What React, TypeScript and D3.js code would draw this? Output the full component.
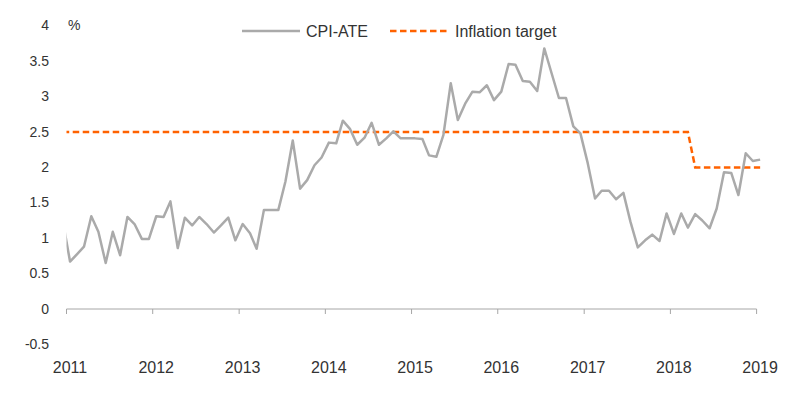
import React from "react";
import * as d3 from "d3";

// Monthly CPI-ATE (% y/y), Dec 2010 .. Jan 2019
const startMonth = "2010-12";
const cpiAte: number[] = [
  1.25,
  0.67, 0.78, 0.88, 1.31, 1.09, 0.65, 1.09, 0.76, 1.30, 1.20, 0.99, 0.99,
  1.31, 1.30, 1.52, 0.86, 1.29, 1.18, 1.30, 1.20, 1.08, 1.18, 1.29, 0.97,
  1.20, 1.07, 0.85, 1.40, 1.40, 1.40, 1.80, 2.38, 1.70, 1.82, 2.03, 2.14,
  2.35, 2.34, 2.66, 2.54, 2.32, 2.42, 2.63, 2.32, 2.41, 2.51, 2.41, 2.41,
  2.41, 2.40, 2.17, 2.15, 2.46, 3.19, 2.67, 2.90, 3.07, 3.06, 3.16, 2.95,
  3.07, 3.46, 3.45, 3.22, 3.21, 3.08, 3.68, 3.33, 2.98, 2.98, 2.58, 2.48,
  2.06, 1.56, 1.67, 1.67, 1.55, 1.64, 1.23, 0.87, 0.97, 1.05, 0.96, 1.35,
  1.06, 1.35, 1.15, 1.34, 1.25, 1.14, 1.42, 1.93, 1.92, 1.61, 2.20, 2.09,
  2.11,
];

// Inflation target steps
const targetMonths = ["2010-12", "2018-03", "2018-04", "2019-01"];
const targetValues = [2.5, 2.5, 2.0, 2.0];

const yTicks = [-0.5, 0, 0.5, 1, 1.5, 2, 2.5, 3, 3.5, 4];
const xYears = [2011, 2012, 2013, 2014, 2015, 2016, 2017, 2018, 2019];

const seriesNames = ["CPI-ATE", "Inflation target"];

const W = 800;
const H = 412;
const FONT = "'Liberation Sans', Arial, sans-serif";
const TEXT = "#333333";
const GREY = "#aaaaaa";
const ORANGE = "#ff6200";

const parseMonth = (s: string) => {
  const [y, m] = s.split("-").map(Number);
  return new Date(y, m - 1, 16);
};

export default function App() {
  const x = d3
    .scaleTime()
    .domain([new Date(2011, 0, 1), new Date(2019, 0, 1)])
    .range([66.5, 756.6]);
  const y = d3.scaleLinear().domain([-0.5, 4]).range([344.4, 25.8]);

  const start = parseMonth(startMonth);
  const cpiData = cpiAte.map((v, i) => ({
    date: d3.timeMonth.offset(start, i),
    v,
  }));
  const targetData = targetMonths.map((m, i) => ({
    date: parseMonth(m),
    v: targetValues[i],
  }));

  const line = d3
    .line<{ date: Date; v: number }>()
    .x((d) => x(d.date))
    .y((d) => y(d.v));

  const x0 = x.range()[0];
  const x1 = x.range()[1];
  const y0 = y(0);

  return (
    <svg
      width={W}
      height={H}
      style={{ position: "absolute", left: 0, top: 0, background: "#fff" }}
      fontFamily={FONT}
    >
      <defs>
        <clipPath id="plotclip">
          <rect x={x0} y={0} width={W - x0} height={H} />
        </clipPath>
      </defs>

      {/* y tick labels */}
      {yTicks.map((t) => (
        <text
          key={t}
          x={49}
          y={y(t)}
          dy="0.33em"
          textAnchor="end"
          fontSize={14}
          fill={TEXT}
        >
          {String(t)}
        </text>
      ))}
      <text x={68} y={29.5} fontSize={14} fill={TEXT}>
        %
      </text>

      {/* x axis */}
      <line x1={x0} x2={x1} y1={y0} y2={y0} stroke="#a6a6a6" strokeWidth={1} />
      {xYears.map((yr) => {
        const px = x(new Date(yr, 0, 1));
        return (
          <g key={yr}>
            <line x1={px} x2={px} y1={y0} y2={y0 + 5} stroke="#a6a6a6" strokeWidth={1} />
            <text
              x={px + 3.5}
              y={373}
              textAnchor="middle"
              fontSize={16}
              fill={TEXT}
            >
              {yr}
            </text>
          </g>
        );
      })}

      {/* series */}
      <g clipPath="url(#plotclip)">
        <path
          d={line(targetData) || ""}
          fill="none"
          stroke={ORANGE}
          strokeWidth={2.5}
          strokeDasharray="6.5,3.5"
        />
        <path
          d={line(cpiData) || ""}
          fill="none"
          stroke={GREY}
          strokeWidth={2.5}
          strokeLinejoin="round"
        />
      </g>

      {/* legend */}
      <line x1={242} x2={300} y1={31} y2={31} stroke={GREY} strokeWidth={2.5} />
      <text x={306} y={36.5} fontSize={16} fill={TEXT}>
        {seriesNames[0]}
      </text>
      <line
        x1={390}
        x2={449}
        y1={31}
        y2={31}
        stroke={ORANGE}
        strokeWidth={2.5}
        strokeDasharray="6.5,3.5"
      />
      <text x={455} y={36.5} fontSize={16} fill={TEXT}>
        {seriesNames[1]}
      </text>
    </svg>
  );
}
